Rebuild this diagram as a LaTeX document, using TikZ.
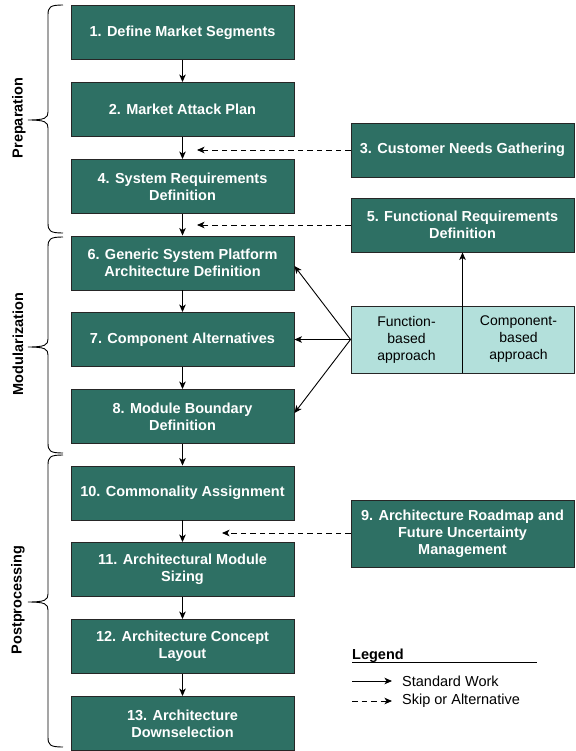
\documentclass[tikz,border=0pt]{standalone}
\usepackage{fontspec}
\setmainfont{Liberation Sans}
\usetikzlibrary{arrows.meta}
\definecolor{stepgreen}{RGB}{46,112,100}
\definecolor{approachfill}{RGB}{179,224,219}
\tikzset{
  stepbox/.style={draw=black!85, line width=0.9pt, fill=stepgreen, text=white,
    minimum width=223pt, minimum height=54pt, inner sep=2pt, align=center,
    font=\fontsize{14.5}{17}\selectfont\bfseries},
  tallbox/.style={stepbox, minimum height=67pt},
  flow/.style={-{Stealth[length=7.5pt,width=6.5pt,inset=2pt]}, line width=0.9pt},
  skipflow/.style={flow, dash pattern=on 5.5pt off 4pt},
  phaselabel/.style={rotate=90, font=\fontsize{14.5}{16}\selectfont\bfseries},
  plain/.style={font=\fontsize{14}{17}\selectfont, align=center}
}
\newcommand{\phasebrace}[3]{% top, tip, bottom
  \draw[line width=0.9pt] (63,#1) .. controls (50,#1) and (48,#1+2) .. (48,#1+10)
    -- (48,#2-8) .. controls (48,#2-2) and (45,#2) .. (28,#2)
    .. controls (45,#2) and (48,#2+2) .. (48,#2+8)
    -- (48,#3-10) .. controls (48,#3-2) and (50,#3) .. (63,#3);}
\begin{document}
\begin{tikzpicture}[x=1pt,y=-1pt]
\useasboundingbox (0,0) rectangle (575,751);

% main sequence of steps
\node[stepbox] (s1) at (182.5,32.5) {1. Define Market Segments};
\node[stepbox] (s2) at (182.5,109.5) {2. Market Attack Plan};
\node[stepbox] (s4) at (182.5,186.5) {4. System Requirements\\Definition};
\node[stepbox] (s6) at (182.5,263) {6. Generic System Platform\\Architecture Definition};
\node[stepbox] (s7) at (182.5,339.5) {7. Component Alternatives};
\node[stepbox] (s8) at (182.5,416.5) {8. Module Boundary\\Definition};
\node[stepbox] (s10) at (182.5,493) {10. Commonality Assignment};
\node[stepbox] (s11) at (182.5,569.5) {11. Architectural Module\\Sizing};
\node[stepbox] (s12) at (182.5,646.5) {12. Architecture Concept\\Layout};
\node[stepbox] (s13) at (182.5,723.5) {13. Architecture\\Downselection};

% side inputs
\node[stepbox] (s3) at (462.5,150) {3. Customer Needs Gathering};
\node[stepbox] (s5) at (462.5,225) {5. Functional Requirements\\Definition};
\node[tallbox] (s9) at (462.5,533.5) {9. Architecture Roadmap and\\Future Uncertainty\\Management};

% approach box split in two halves
\node[draw=black!85, line width=0.9pt, fill=approachfill, minimum width=223pt,
  minimum height=67pt] (ap) at (462.5,339.5) {};
\node[plain] (fb) at (406.5,339.5) {Function-\\based\\approach};
\node[plain] (cb) at (518.5,339.5) {Component-\\based\\approach};

% standard flow
\foreach \a/\b in {s1/s2,s2/s4,s4/s6,s6/s7,s7/s8,s8/s10,s10/s11,s11/s12,s12/s13}
  \draw[flow] (\a) -- (\b);

% alternative inputs
\coordinate (in3) at (197,150);
\coordinate (in5) at (197,225);
\coordinate (in9) at (222,533);
\draw[skipflow] (s3.west) -- (in3);
\draw[skipflow] (s5.west) -- (in5);
\draw[skipflow] (s9.west |- in9) -- (in9);

% approaches feeding steps 5, 6, 7, 8
\draw[flow] (ap.south) -- (s5.south);
\draw[flow] (ap.west) -- (s6.east |- 0,266);
\draw[flow] (ap.west) -- (s7.east);
\draw[flow] (ap.west) -- (s8.east |- 0,413);

% phase braces
\phasebrace{5}{120}{233}
\phasebrace{237}{347}{453}
\phasebrace{455}{602}{747}
\node[phaselabel] (lp) at (19,118) {Preparation};
\node[phaselabel] (lm) at (18,344) {Modularization};
\node[phaselabel] (lpp) at (18,600) {Postprocessing};

% legend
\node[anchor=base west, inner sep=0pt, font=\fontsize{14.5}{16}\selectfont\bfseries] (lg) at (352,659) {Legend};
\coordinate (ul1) at (352,662);
\coordinate (ul2) at (537,662);
\draw[line width=0.9pt] (ul1) -- (ul2);
\coordinate (la1) at (352,681);
\coordinate (la2) at (392,681);
\coordinate (lb1) at (352,701);
\coordinate (lb2) at (392,701);
\draw[flow] (la1) -- (la2);
\draw[skipflow] (lb1) -- (lb2);
\node[anchor=west, inner sep=0pt, font=\fontsize{14.5}{16}\selectfont] (lt1) at (402,681) {Standard Work};
\node[anchor=west, inner sep=0pt, font=\fontsize{14.5}{16}\selectfont] (lt2) at (402,701) {Skip or Alternative};
\end{tikzpicture}
\end{document}
